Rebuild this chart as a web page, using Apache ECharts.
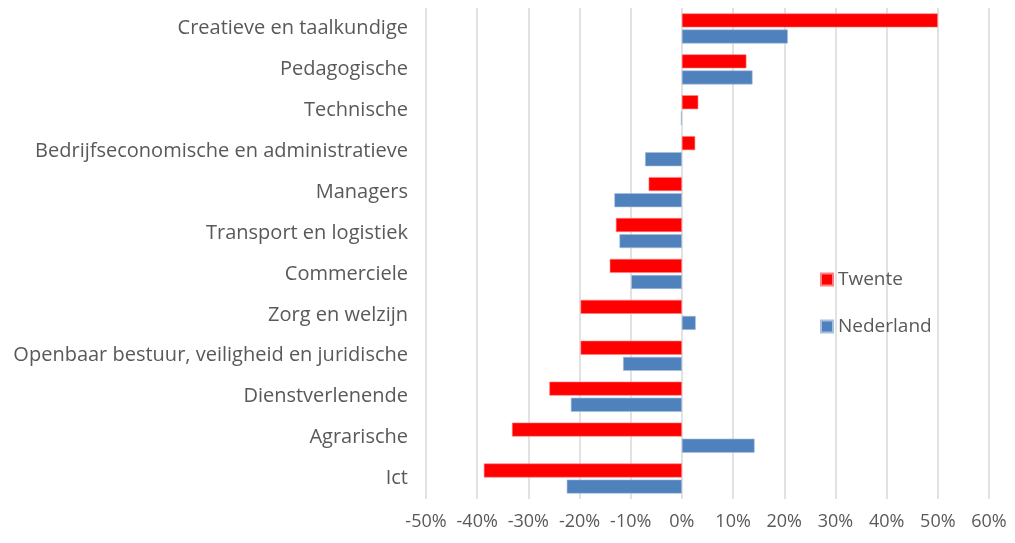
<!DOCTYPE html>
<html>
<head>
<meta charset="utf-8">
<title>Twente vs Nederland</title>
<script src="https://cdn.jsdelivr.net/npm/echarts@6/dist/echarts.min.js"></script>
<style>
  html, body { margin: 0; padding: 0; background: #fff; }
  #chart { width: 1015px; height: 543px; }
</style>
</head>
<body>
<div id="chart"></div>
<script>
// categorieen van boven naar beneden
var categories = [
    'Creatieve en taalkundige',
    'Pedagogische',
    'Technische',
    'Bedrijfseconomische en administratieve',
    'Managers',
    'Transport en logistiek',
    'Commerciele',
    'Zorg en welzijn',
    'Openbaar bestuur, veiligheid en juridische',
    'Dienstverlenende',
    'Agrarische',
    'Ict'
];
// groei in procenten
var twente = [50, 12.6, 3.2, 2.6, -6.5, -12.9, -14.1, -19.8, -19.8, -25.9, -33.2, -38.7];
var nederland = [20.7, 13.8, -0.2, -7.2, -13.2, -12.2, -9.9, 2.7, -11.5, -21.7, 14.2, -22.5];

var textColor = '#595959';
var fontName = 'Open Sans';

var myChart = echarts.init(document.getElementById('chart'));
myChart.setOption({
    animation: false,
    textStyle: { fontFamily: fontName, color: textColor },
    legend: {
        orient: 'vertical',
        left: 815,
        top: 265,
        itemWidth: 12,
        itemHeight: 12,
        itemGap: 28,
        icon: 'rect',
        textStyle: { fontSize: 19, color: textColor, fontFamily: fontName },
        data: ['Twente', 'Nederland']
    },
    grid: {
        left: 426,
        right: 26,
        top: 8,
        bottom: 44,
        containLabel: false
    },
    xAxis: {
        type: 'value',
        min: -50,
        max: 60,
        interval: 10,
        axisLine: { show: false },
        axisTick: { show: false },
        splitLine: { lineStyle: { color: '#d9d9d9', width: 1.5 } },
        axisLabel: {
            formatter: '{value}%',
            fontSize: 18,
            color: textColor,
            margin: 14
        }
    },
    yAxis: {
        type: 'category',
        inverse: true,
        data: categories,
        axisLine: { show: false },
        axisTick: { show: false },
        axisLabel: { fontSize: 20, color: textColor, margin: 18 }
    },
    series: [{
        name: 'Twente',
        type: 'bar',
        data: twente,
        barWidth: 14,
        barGap: '15%',
        itemStyle: { color: '#ff0000', borderColor: '#ff8080', borderWidth: 0.6 }
    }, {
        name: 'Nederland',
        type: 'bar',
        data: nederland,
        barWidth: 14,
        itemStyle: { color: '#4f81bd', borderColor: '#a6c0de', borderWidth: 0.6 }
    }]
});
</script>
</body>
</html>
